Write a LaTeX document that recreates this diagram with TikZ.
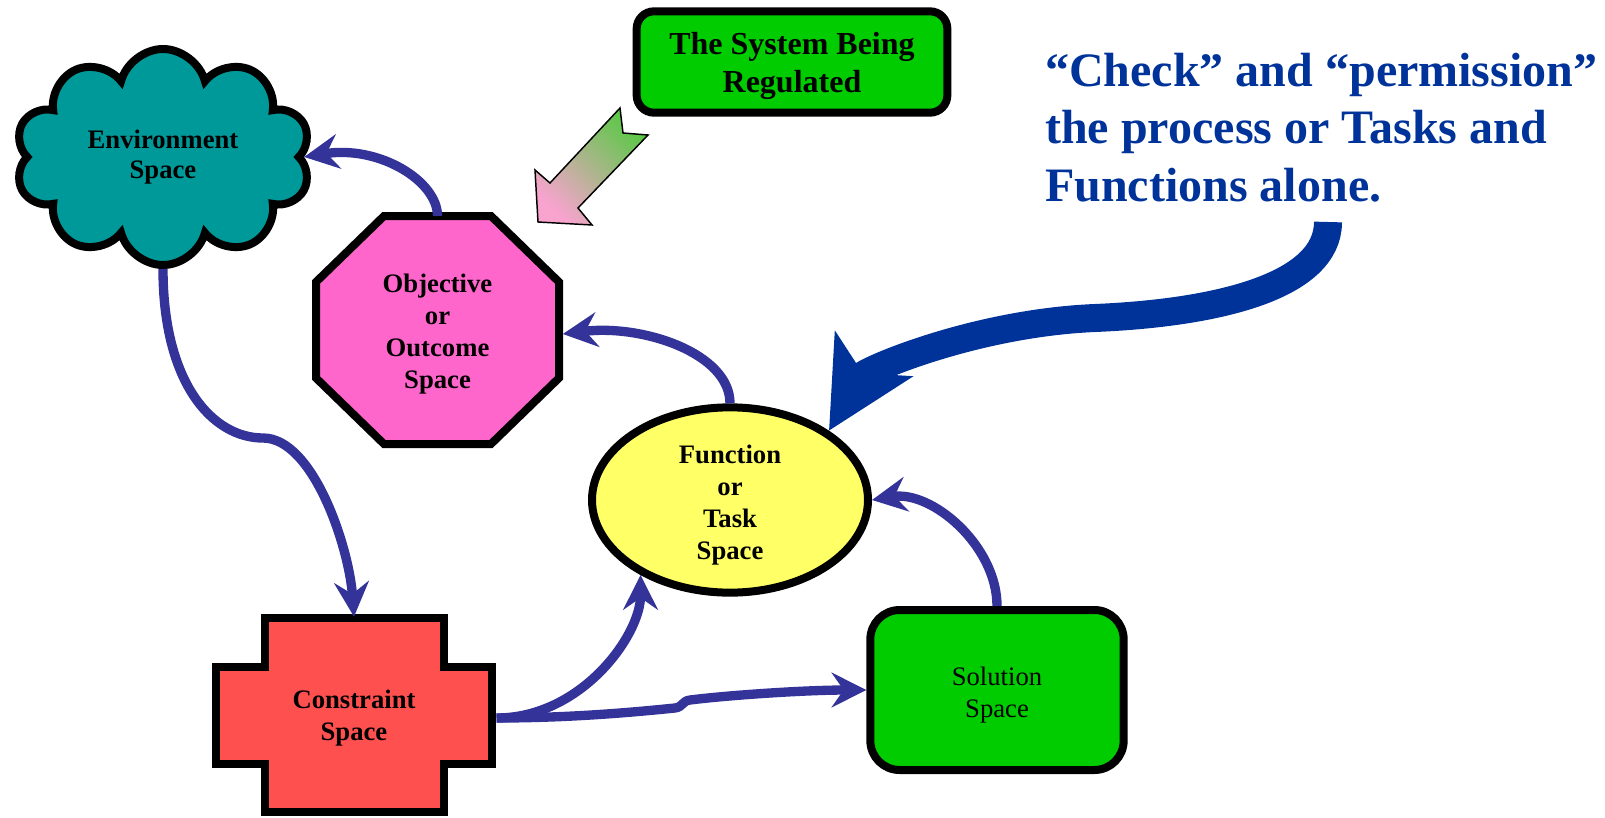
\documentclass[tikz,border=0pt]{standalone}
\usepackage{fontspec}
\setmainfont{Liberation Serif}
\usetikzlibrary{shapes,shapes.symbols,arrows.meta,calc}
\definecolor{envteal}{HTML}{009999}
\definecolor{boxgreen}{HTML}{00CC00}
\definecolor{goalpink}{HTML}{FF66CC}
\definecolor{taskyellow}{HTML}{FFFF66}
\definecolor{conred}{HTML}{FF5050}
\definecolor{edgeblue}{HTML}{333399}
\definecolor{noteblue}{HTML}{003399}
\definecolor{arrowpink}{HTML}{F9A3CF}
\definecolor{arrowgreen}{HTML}{5CC847}
\tikzstyle{boxtext} = [font=\bfseries\fontsize{20}{24}\selectfont, align=center, text=black]
\tikzstyle{envcloud} = [shape=cloud, draw, line width=6pt, fill=envteal, cloud puffs=10,
   cloud ignores aspect, minimum width=222pt, minimum height=162pt, boxtext,
   font=\bfseries\fontsize{20}{22.5}\selectfont]
\tikzstyle{plain} = [rectangle, inner sep=0pt, outer sep=0pt, boxtext]
\tikzstyle{oval} = [ellipse, draw, line width=6pt, fill=taskyellow,
   minimum width=207pt, minimum height=134pt, inner sep=0pt, boxtext]
\tikzstyle{roundblock} = [rectangle, rounded corners=22pt, draw, line width=6pt,
   fill=boxgreen, minimum width=190pt, minimum height=120pt, align=center,
   font=\fontsize{20}{24}\selectfont]
\tikzstyle{sysblock} = [rectangle, rounded corners=13pt, draw, line width=6pt,
   fill=boxgreen, minimum width=233pt, minimum height=76pt, align=center,
   font=\bfseries\fontsize{24}{28.5}\selectfont]
\tikzstyle{note} = [font=\bfseries\fontsize{36}{43}\selectfont, text=noteblue,
   align=left, inner sep=0pt]
\tikzstyle{line} = [draw, edgeblue, line width=7pt, -{Stealth[length=26pt,width=26pt,inset=9pt]}]
\tikzstyle{bigline} = [draw, noteblue, line width=21pt, -{Stealth[length=66pt,width=66pt,inset=16pt]}]
\begin{document}
\begin{tikzpicture}[x=0.75pt, y=-0.75pt]
\useasboundingbox (0,0) rectangle (1605,817);
% Place nodes
\node [envcloud] (env) at (163,157) {Environment\\Space};
\node [sysblock] (sys) at (792,62) {\rule{0pt}{22pt}The System Being\\Regulated};
\draw [line width=6pt, fill=goalpink] (384,216) -- (491,216) -- (559,282) -- (559,378)
   -- (491,444) -- (384,444) -- (316,378) -- (316,282) -- cycle;
\node [plain, minimum width=188pt, minimum height=177pt] (obj) at (437.5,334)
   {Objective\\or\\Outcome\\Space};
\node [oval] (task) at (730,500) {\rule{0pt}{22pt}Function\\or\\Task\\Space};
\draw [line width=6pt, fill=conred] (265,618) -- (444,618) -- (444,667)
   -- (492,667) -- (492,764) -- (444,764) -- (444,812) -- (265,812) -- (265,764)
   -- (216,764) -- (216,667) -- (265,667) -- cycle;
\node [plain, minimum width=213.75pt, minimum height=152pt] (con) at (354,718)
   {Constraint\\Space};
\node [roundblock] (sol) at (997,690) {\rule{0pt}{21pt}Solution\\Space};
\node [note, anchor=north west] (note) at (1045,53) {“Check” and “permission”\\the process or Tasks and\\Functions alone.};
\coordinate (noteend) at (1328,222);
% gradient arrow
\draw [line width=1.1pt, top color=arrowgreen, bottom color=arrowpink, shading angle=-45]
   (620,108) -- (623,133) -- (648,135) -- (578,208) -- (592,225) -- (538,222)
   -- (535,170) -- (550,183) -- cycle;
% Draw edges
\path [line] (obj.north) .. controls +(0,-35) and +(75,-12) .. (env.east);
\path [line] (env.south) .. controls +(0,115) and +(-50,0) .. (263,438)
   .. controls +(50,0) and +(-5,-70) .. (con.north);
\path [line] (task.north) .. controls +(0,-50) and +(80,-10) .. (obj.east);
\path [line] (con.east) .. controls +(85,0) and +(0,60) .. (task.220);
\path [line] (con.east) .. controls +(80,0) and +(-30,3) .. (675,708)
   .. controls +(8,-1) and +(-8,1) .. (690,700) .. controls +(40,-5) and +(-60,0) .. (sol.west);
\path [line] (sol.north) .. controls +(0,-60) and +(60,-10) .. (task.east);
\path [bigline] (noteend) .. controls +(0,65) and +(120,-5) .. (1095,318)
   .. controls +(-120,5) and +(35,-60) .. (task.35);
\end{tikzpicture}
\end{document}
